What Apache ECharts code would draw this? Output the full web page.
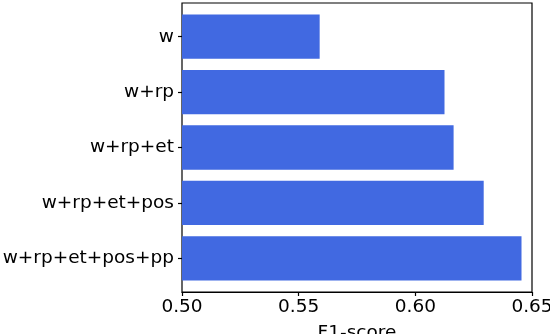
<!DOCTYPE html>
<html>
<head>
<meta charset="utf-8">
<script src="https://cdn.jsdelivr.net/npm/echarts@6/dist/echarts.min.js"></script>
<style>
  html, body { margin: 0; padding: 0; background: #fff; }
  #chart { width: 550px; height: 334px; }
</style>
</head>
<body>
<div id="chart"></div>
<script>
// feature sets, top to bottom
const categories = ['w', 'w+rp', 'w+rp+et', 'w+rp+et+pos', 'w+rp+et+pos+pp'];
const f1Scores = [0.559, 0.6125, 0.6164, 0.6293, 0.6455];

const xMin = 0.5;
const xMax = 0.65;
const font = 'DejaVu Sans';
const fontSize = 18.5;

const chart = echarts.init(document.getElementById('chart'));

chart.setOption({
    animation: false,
    backgroundColor: '#fff',
    grid: [
        // outer frame with matplotlib-like margins
        { left: 182, right: 18, top: 3, bottom: 42, outerBoundsMode: 'none', show: true, borderColor: '#000', borderWidth: 1.2, backgroundColor: 'transparent' },
        // inner grid holding the bars
        { left: 182, right: 18, top: 9, bottom: 48, outerBoundsMode: 'none' }
    ],
    xAxis: [
        {
            gridIndex: 0,
            type: 'value',
            min: xMin,
            max: xMax,
            interval: 0.05,
            name: 'F1-score',
            nameLocation: 'middle',
            nameGap: 32,
            nameTextStyle: { fontFamily: font, fontSize: fontSize, color: '#000' },
            axisLine: { show: true, lineStyle: { color: '#000', width: 1.2 } },
            axisTick: { show: true, length: 4, lineStyle: { color: '#000', width: 1.2 } },
            axisLabel: {
                margin: 6,
                fontFamily: font,
                fontSize: fontSize,
                color: '#000',
                formatter: v => v.toFixed(2)
            },
            splitLine: { show: false }
        },
        {
            gridIndex: 1,
            type: 'value',
            min: xMin,
            max: xMax,
            show: false
        }
    ],
    yAxis: [
        { gridIndex: 0, type: 'value', show: false },
        {
            gridIndex: 1,
            type: 'category',
            inverse: true,
            data: categories,
            axisLine: { show: false },
            axisTick: { show: true, alignWithLabel: true, length: 4, lineStyle: { color: '#000', width: 1.2 } },
            axisLabel: {
                margin: 8,
                fontFamily: font,
                fontSize: fontSize,
                color: '#000'
            },
            splitLine: { show: false }
        }
    ],
    series: [
        {
            type: 'bar',
            xAxisIndex: 1,
            yAxisIndex: 1,
            data: f1Scores,
            barCategoryGap: '20%',
            itemStyle: { color: '#4169E1' }
        }
    ]
});
</script>
</body>
</html>
